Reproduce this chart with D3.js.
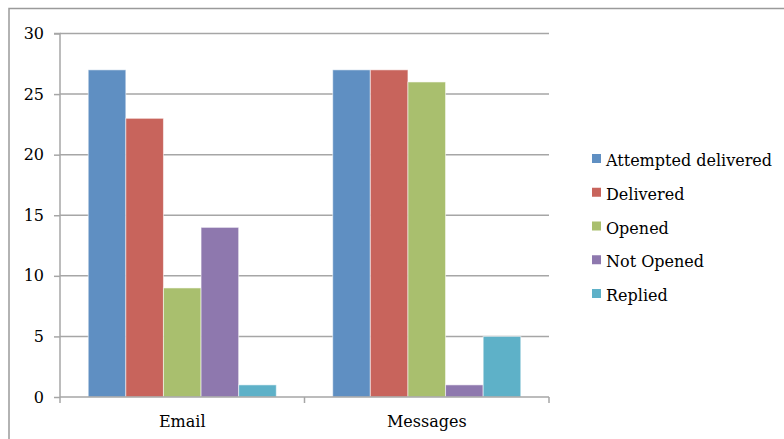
<!DOCTYPE html>
<html>
<head>
<meta charset="utf-8">
<script src="https://cdn.jsdelivr.net/npm/d3@7"></script>
<style>
  html, body { margin: 0; padding: 0; background: #fff; }
  svg { display: block; }
  text { font-family: "DejaVu Serif", serif; fill: #000; }
</style>
</head>
<body>
<svg id="chart" width="784" height="439"></svg>
<script>
const categories = ["Email", "Messages"];
const seriesNames = ["Attempted delivered", "Delivered", "Opened", "Not Opened", "Replied"];
const emailValues = [27, 23, 9, 14, 1];
const messagesValues = [27, 27, 26, 1, 5];
const yTicks = [0, 5, 10, 15, 20, 25, 30];
const colors = ["#5f8fc2", "#c8645c", "#a9bf6e", "#8e78ae", "#5eb1c8"];

const valuesByCategory = [emailValues, messagesValues];

const svg = d3.select("#chart");
const fontSize = 16;

// outer border (left & top visible)
svg.append("rect")
  .attr("x", 9).attr("y", 8.5)
  .attr("width", 800).attr("height", 500)
  .attr("fill", "none").attr("stroke", "#9a9a9a").attr("stroke-width", 1.5);

const plot = { left: 60, right: 549, top: 33.5, bottom: 397 };

const y = d3.scaleLinear().domain([0, 30]).range([plot.bottom, plot.top]);
const x0 = d3.scaleBand().domain(categories).range([plot.left, plot.right]).paddingInner(0).paddingOuter(0);
const x1 = d3.scaleBand().domain(seriesNames).range([0, x0.bandwidth()]).paddingInner(0).paddingOuter(0.75);

// gridlines
svg.append("g").selectAll("line").data(yTicks.filter(d => d > 0)).join("line")
  .attr("x1", plot.left).attr("x2", plot.right)
  .attr("y1", d => y(d)).attr("y2", d => y(d))
  .attr("stroke", "#a6a6a6").attr("stroke-width", 1.5);

// bars
const groups = svg.append("g").selectAll("g").data(categories).join("g")
  .attr("transform", d => `translate(${x0(d)},0)`);
groups.selectAll("rect")
  .data((c, i) => seriesNames.map((s, j) => ({ s, j, v: valuesByCategory[i][j] })))
  .join("rect")
  .attr("x", d => x1(d.s))
  .attr("width", x1.bandwidth())
  .attr("y", d => y(d.v))
  .attr("height", d => y(0) - y(d.v))
  .attr("fill", d => colors[d.j])
  .attr("stroke", "rgba(255,255,255,0.55)")
  .attr("stroke-width", 1);

// y axis
const yAxis = d3.axisLeft(y).tickValues(yTicks).tickSize(6).tickPadding(10).tickFormat(d3.format("d"));
const gy = svg.append("g").attr("transform", `translate(${plot.left},0)`).call(yAxis);
gy.select(".domain").attr("stroke", "#a6a6a6").attr("stroke-width", 1.5).attr("d", `M-6,${plot.top}H0V${plot.bottom}`);
gy.selectAll(".tick line").attr("stroke", "#a6a6a6").attr("stroke-width", 1.5);
gy.selectAll(".tick text").attr("font-family", "DejaVu Serif, serif").attr("font-size", fontSize).attr("fill", "#000");

// x axis
const gx = svg.append("g").attr("transform", `translate(0,${plot.bottom})`);
gx.append("line").attr("x1", plot.left).attr("x2", plot.right).attr("y1", 0).attr("y2", 0)
  .attr("stroke", "#a6a6a6").attr("stroke-width", 1.5);
const boundaries = [plot.left].concat(categories.map(c => x0(c) + x0.bandwidth()));
gx.selectAll("line.b").data(boundaries).join("line").attr("class", "b")
  .attr("x1", d => d).attr("x2", d => d).attr("y1", 0).attr("y2", 6)
  .attr("stroke", "#a6a6a6").attr("stroke-width", 1.5);
gx.selectAll("text").data(categories).join("text")
  .attr("x", d => x0(d) + x0.bandwidth() / 2)
  .attr("y", 30)
  .attr("text-anchor", "middle")
  .attr("font-size", fontSize)
  .text(d => d);

// legend
const legend = svg.append("g").attr("transform", "translate(592,154)");
const rowH = 33.75;
const items = legend.selectAll("g").data(seriesNames).join("g")
  .attr("transform", (d, i) => `translate(0,${i * rowH})`);
items.append("rect").attr("width", 9).attr("height", 9)
  .attr("fill", (d, i) => colors[i]);
items.append("text").attr("x", 14).attr("y", 12)
  .attr("font-size", fontSize).text(d => d);
</script>
</body>
</html>
